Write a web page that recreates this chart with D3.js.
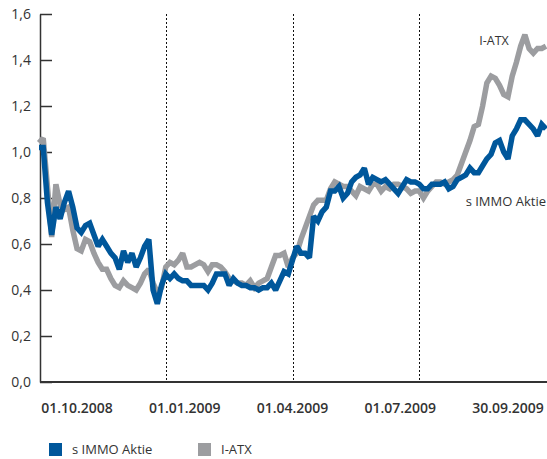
<!DOCTYPE html>
<html>
<head>
<meta charset="utf-8">
<script src="https://cdn.jsdelivr.net/npm/d3@7"></script>
<style>
  html, body { margin: 0; padding: 0; background: #fff; }
  svg { display: block; }
  text { font-family: "Open Sans", "DejaVu Sans", sans-serif; fill: #333; }
</style>
</head>
<body>
<svg id="chart" width="547" height="459"></svg>
<script>
// ---- data (normalised price index, sampled at equal steps over the period) ----
const seriesNames = ["s IMMO Aktie", "I-ATX"];
const dateLabels = ["01.10.2008", "01.01.2009", "01.04.2009", "01.07.2009", "30.09.2009"];
const quarterMarks = [30, 60, 90]; // sample index of 01.01.2009, 01.04.2009, 01.07.2009
const yTicks = [0, 0.2, 0.4, 0.6, 0.8, 1.0, 1.2, 1.4, 1.6];

const simmo = [
  1.02, 1.02, 0.78, 0.64, 0.76, 0.71, 0.78, 0.83, 0.76, 0.67,
  0.65, 0.68, 0.69, 0.64, 0.59, 0.62, 0.59, 0.56, 0.54, 0.49,
  0.57, 0.52, 0.56, 0.50, 0.54, 0.59, 0.62, 0.40, 0.34, 0.42,
  0.47, 0.45, 0.47, 0.45, 0.44, 0.44, 0.42, 0.42, 0.42, 0.42,
  0.40, 0.43, 0.47, 0.47, 0.47, 0.42, 0.45, 0.43, 0.42, 0.42,
  0.41, 0.41, 0.40, 0.41, 0.41, 0.43, 0.40, 0.44, 0.48, 0.47,
  0.53, 0.59, 0.56, 0.56, 0.54, 0.72, 0.70, 0.74, 0.76, 0.83,
  0.83, 0.85, 0.80, 0.82, 0.87, 0.89, 0.90, 0.93, 0.86, 0.89,
  0.88, 0.87, 0.88, 0.86, 0.84, 0.82, 0.85, 0.88, 0.87, 0.87,
  0.86, 0.84, 0.84, 0.86, 0.86, 0.86, 0.87, 0.84, 0.85, 0.88,
  0.89, 0.90, 0.93, 0.91, 0.91, 0.94, 0.97, 0.99, 1.04, 1.05,
  1.00, 0.97, 1.07, 1.10, 1.14, 1.14, 1.12, 1.10, 1.07, 1.12,
  1.10
];

const iatx = [
  1.04, 1.06, 0.85, 0.63, 0.86, 0.77, 0.75, 0.76, 0.66, 0.58,
  0.57, 0.62, 0.61, 0.56, 0.52, 0.49, 0.49, 0.45, 0.42, 0.41,
  0.44, 0.42, 0.41, 0.40, 0.43, 0.47, 0.49, 0.43, 0.39, 0.41,
  0.50, 0.52, 0.51, 0.53, 0.56, 0.50, 0.50, 0.51, 0.52, 0.51,
  0.48, 0.51, 0.51, 0.50, 0.48, 0.45, 0.44, 0.43, 0.43, 0.42,
  0.44, 0.41, 0.43, 0.44, 0.45, 0.50, 0.55, 0.55, 0.56, 0.50,
  0.54, 0.56, 0.62, 0.67, 0.72, 0.77, 0.79, 0.79, 0.79, 0.84,
  0.87, 0.86, 0.85, 0.85, 0.83, 0.81, 0.85, 0.84, 0.83, 0.86,
  0.86, 0.83, 0.85, 0.84, 0.86, 0.86, 0.85, 0.84, 0.82, 0.83,
  0.83, 0.80, 0.83, 0.85, 0.87, 0.87, 0.86, 0.87, 0.88, 0.90,
  0.95, 1.00, 1.05, 1.11, 1.12, 1.20, 1.30, 1.33, 1.32, 1.29,
  1.25, 1.24, 1.33, 1.39, 1.46, 1.51, 1.45, 1.43, 1.45, 1.45,
  1.46
];

const colors = ["#00579b", "#9c9da0"];

// ---- layout ----
const svg = d3.select("#chart");
const x = d3.scaleLinear().domain([0, simmo.length - 1]).range([39, 546]);
const y = d3.scaleLinear().domain([0, 1.6]).range([382, 14]);
const labelX = d3.scalePoint().domain(dateLabels).range([77, 508]);

// quarter separators
svg.append("g").selectAll("line").data(quarterMarks).join("line")
  .attr("x1", d => Math.round(x(d)) + 0.5).attr("x2", d => Math.round(x(d)) + 0.5)
  .attr("y1", y(1.6)).attr("y2", y(0))
  .attr("stroke", "#111").attr("stroke-width", 1)
  .attr("stroke-dasharray", "2,2");

// y axis
const yAxis = d3.axisLeft(y).tickValues(yTicks)
  .tickSize(-12).tickSizeOuter(0).tickPadding(9)
  .tickFormat(d => d3.format(".1f")(d).replace(".", ","));
const gy = svg.append("g").attr("transform", "translate(40,0)").call(yAxis);
gy.select(".domain").attr("stroke", "#333").attr("stroke-width", 1.5);
gy.selectAll(".tick line").attr("stroke", "#333").attr("stroke-width", 1.5);
gy.selectAll(".tick text").attr("font-size", 14).attr("fill", "#333")
  .attr("font-family", "'Open Sans', sans-serif");

// series lines
const line = d3.line().x((d, i) => x(i)).y(d => y(d));
svg.append("path").datum(iatx).attr("d", line)
  .attr("fill", "none").attr("stroke", colors[1]).attr("stroke-width", 5.5)
  .attr("stroke-linejoin", "miter").attr("stroke-miterlimit", 2);
svg.append("path").datum(simmo).attr("d", line)
  .attr("fill", "none").attr("stroke", colors[0]).attr("stroke-width", 5.5)
  .attr("stroke-linejoin", "miter").attr("stroke-miterlimit", 2);

// x axis line
svg.append("line").attr("x1", 40).attr("x2", 547)
  .attr("y1", y(0)).attr("y2", y(0))
  .attr("stroke", "#333").attr("stroke-width", 2);

// date labels
svg.append("g").selectAll("text").data(dateLabels).join("text")
  .attr("x", d => labelX(d)).attr("y", 413)
  .attr("text-anchor", "middle").attr("font-size", 14).attr("font-weight", 600)
  .text(d => d);

// series annotations
svg.append("text").attr("x", 494).attr("y", 45).attr("text-anchor", "middle")
  .attr("font-size", 12.5).text(seriesNames[1]);
svg.append("text").attr("x", 546).attr("y", 206).attr("text-anchor", "end")
  .attr("font-size", 13).text(seriesNames[0]);

// legend
const legendX = [49, 198];
const lg = svg.append("g").selectAll("g").data(seriesNames).join("g")
  .attr("transform", (d, i) => `translate(${legendX[i]},443)`);
lg.append("rect").attr("width", 13).attr("height", 13)
  .attr("fill", (d, i) => colors[i]);
lg.append("text").attr("x", 23).attr("y", 11).attr("font-size", 13).text(d => d);
</script>
</body>
</html>
